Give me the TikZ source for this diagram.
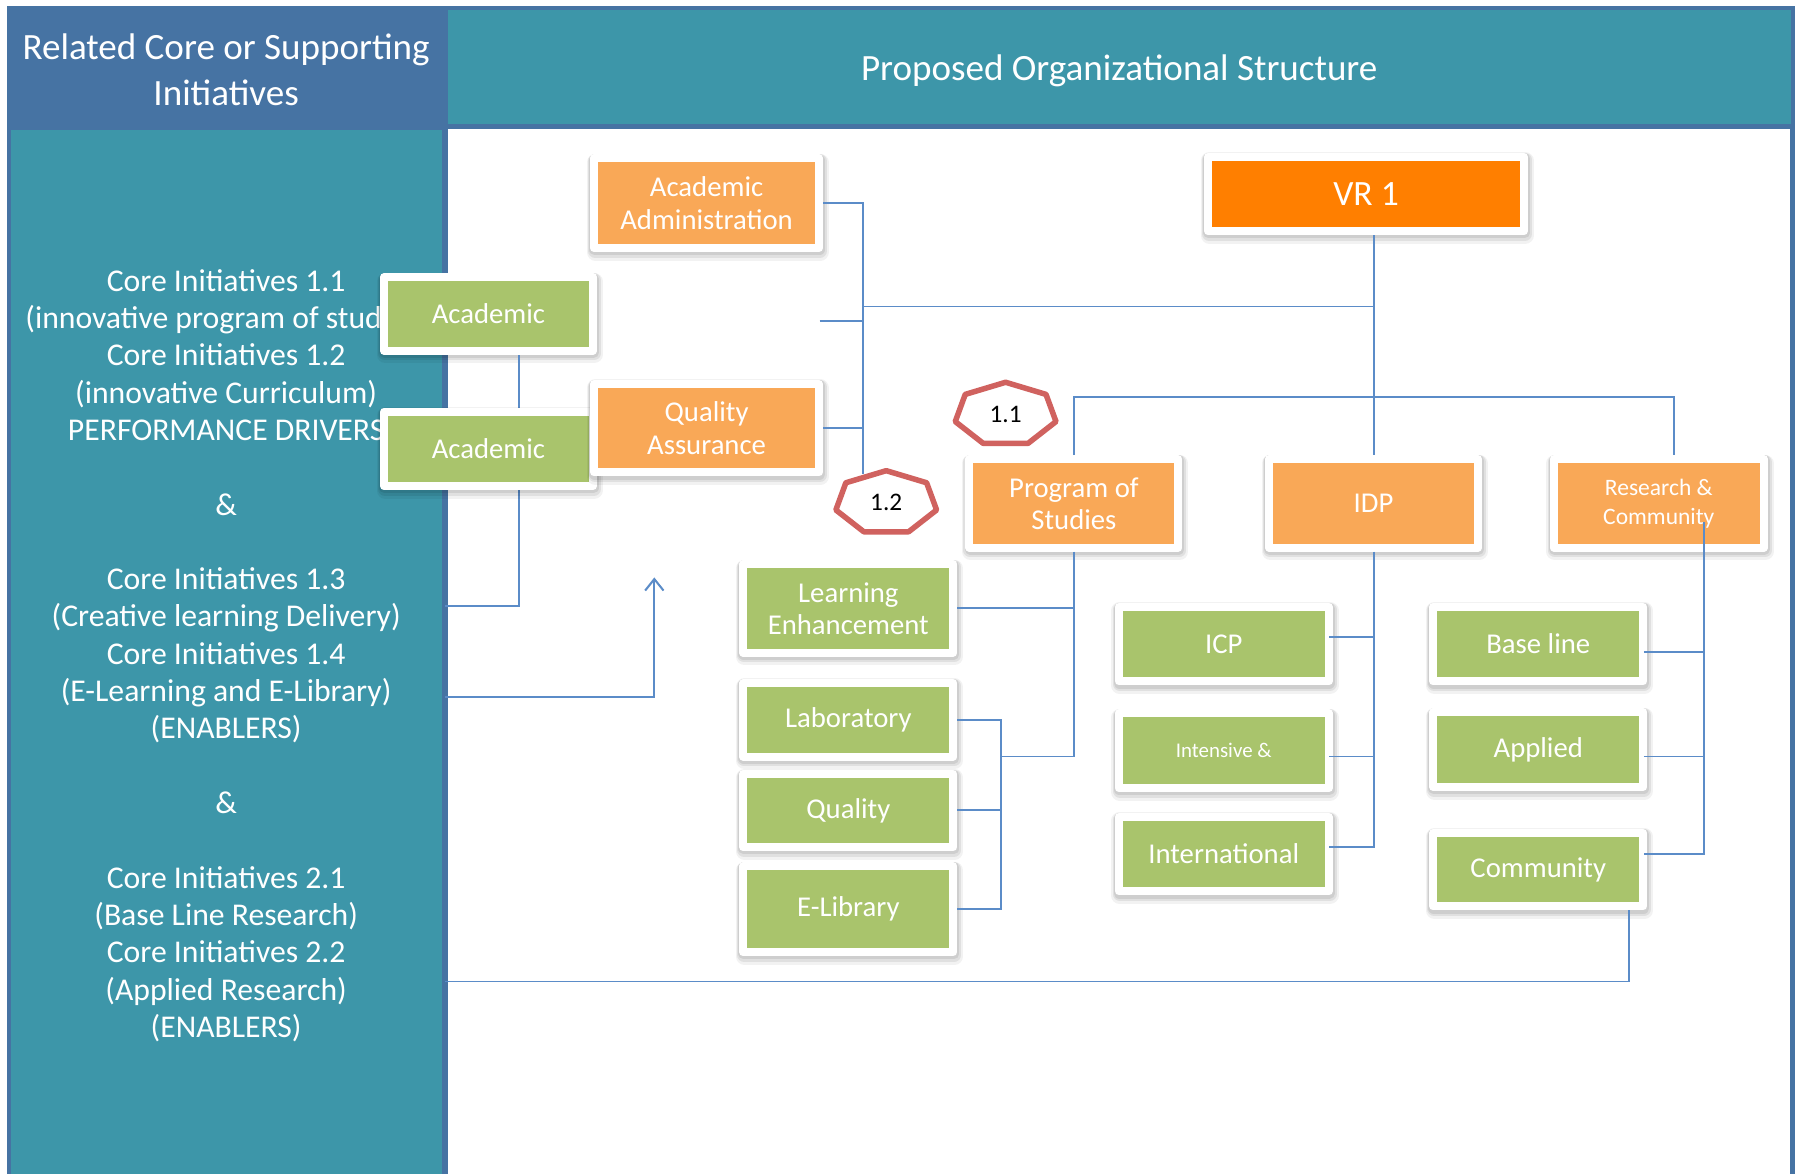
\documentclass[tikz,border=0pt]{standalone}
\usepackage{fontspec}
\setmainfont{Carlito}
\usetikzlibrary{arrows.meta,calc}
\definecolor{dblue}{HTML}{4673A3}
\definecolor{teal1}{HTML}{3D96A9}
\definecolor{lorange}{HTML}{F9A857}
\definecolor{dorange}{HTML}{FF7F00}
\definecolor{lgreen}{HTML}{A9C46C}
\definecolor{connc}{HTML}{5B8CC8}
\definecolor{hepred}{HTML}{D0625F}
\begin{document}
\begin{tikzpicture}[x=1pt,y=-1pt,
  box/.style={draw=white, line width=7pt, line join=round, text=white, align=center, inner sep=0pt,
    minimum width=183pt, minimum height=64pt,
    preaction={draw=black, draw opacity=0.05, line width=15pt, transform canvas={xshift=1pt,yshift=-3.5pt}},
    preaction={draw=black, draw opacity=0.07, line width=12pt, transform canvas={xshift=0.8pt,yshift=-2.5pt}},
    preaction={draw=black, draw opacity=0.08, line width=9.5pt, transform canvas={xshift=0.5pt,yshift=-1.5pt}}},
  gbox/.style={box, fill=lgreen, font=\fontsize{25}{28}\selectfont},
  obox/.style={box, fill=lorange, font=\fontsize{25}{28}\selectfont},
  conn/.style={draw=connc, line width=1.7pt},
  hep/.style={draw=hepred, line width=4.8pt, fill=white, line join=round},
  hdr/.style={text=white, align=center, font=\fontsize{32.3}{40}\selectfont},
  lefttext/.style={text=white, align=center, font=\fontsize{27.6}{32.5}\selectfont},
  heptext/.style={text=black, font=\fontsize{22}{24}\selectfont, inner sep=0pt}]
\useasboundingbox (0,0) rectangle (1568,1023);
% panels
\fill[dblue] (6,5) rectangle (1564,1023);
\fill[teal1] (10,113) rectangle (385,1023);
\fill[teal1] (390,9) rectangle (1560,108);
\fill[white] (390,112) rectangle (1559,1023);
% headers
\node[hdr] (hl) at (197,61) {Related Core or Supporting\\Initiatives};
\node[hdr] (hr) at (975,62) {Proposed Organizational Structure};
% left column text
\node[lefttext] (lt) at (197,571) {Core Initiatives 1.1\\(innovative program of studies)\\Core Initiatives 1.2\\(innovative Curriculum)\\PERFORMANCE DRIVERS\\[32.5pt]\&\\[32.5pt]Core Initiatives 1.3\\(Creative learning Delivery)\\Core Initiatives 1.4\\(E-Learning and E-Library)\\(ENABLERS)\\[32.5pt]\&\\[32.5pt]Core Initiatives 2.1\\(Base Line Research)\\Core Initiatives 2.2\\(Applied Research)\\(ENABLERS)};
% coordinates on left column edge
\coordinate (lc1) at (388,528);
\coordinate (lc2) at (388,607);
\coordinate (lcb) at (388,855);
\coordinate (arr) at (570,503);
% boxes
\node[gbox, minimum width=182pt] (acad1) at (425.5,273.5) {Academic};
\draw[conn] (lc1) -| ($(acad1.south)+(26.5,0)$);
\node[gbox, minimum width=182pt, minimum height=65pt] (acad2) at (425.5,391) {Academic};
\node[obox, minimum width=196pt, minimum height=78pt] (aa) at (615.5,177) {Academic\\Administration};
\node[obox, minimum width=196pt, minimum height=77pt] (qa) at (615.5,373) {Quality\\Assurance};
\node[box, fill=dorange, minimum width=275pt, minimum height=65pt, font=\fontsize{31}{34}\selectfont] (vr) at (1190,169) {VR 1};
\node[obox, minimum width=182pt, minimum height=77pt] (ps) at (935.5,438.5) {Program of\\Studies};
\node[obox, minimum width=182pt, minimum height=77pt] (idp) at (1196.5,438.5) {IDP};
\node[box, fill=lorange, minimum height=77pt, font=\fontsize{20.5}{25}\selectfont] (rc) at (1445,438.5) {Research \&\\Community};
\node[gbox, minimum height=77pt] (le) at (739,530) {Learning\\Enhancement};
\node[gbox] (lab) at (739,627) {Laboratory};
\node[gbox] (qual) at (739,706) {Quality};
\node[gbox, minimum height=75pt] (elib) at (739,792) {E-Library};
\node[gbox, minimum height=65pt] (icp) at (1066,561) {ICP};
\node[box, fill=lgreen, minimum height=65pt, font=\fontsize{18.2}{20}\selectfont] (int) at (1066,654) {Intensive \&};
\node[gbox, minimum height=65pt] (intl) at (1066,744) {International};
\node[gbox, minimum height=65pt] (bl) at (1340,561) {Base line};
\node[gbox, minimum height=65pt] (app) at (1340,653) {Applied};
\node[gbox] (com) at (1340,757.5) {Community};
% junction coordinates
\coordinate (jtop) at (752,267);
\coordinate (jbot) at (752,413);
\coordinate (stub) at (714,280);
\coordinate (bus) at (1100,346);
\coordinate (rctop) at ($(rc.north)+(13,0)$);
\coordinate (psj) at (935.5,659);
\coordinate (labx) at (872,0);
\coordinate (icpc) at (1158,555);
\coordinate (intc) at (1158,659);
\coordinate (intlc) at (1158,738);
\coordinate (rcin) at (1484,455);
\coordinate (blc) at (1432,568);
\coordinate (appc) at (1432,659);
\coordinate (comc) at (1432,744);
\coordinate (comb) at ($(com.south)+(79,0)$);
% connectors
\draw[conn] (aa.east) -| (jbot);
\draw[conn] (qa.east) -- (qa.east -| jbot);
\draw[conn] (stub) -- (stub -| jbot);
\draw[conn] (jtop) -- (jtop -| idp.north);
\draw[conn] (vr.south -| idp.north) -- (idp.north);
\draw[conn] (ps.north) -- (ps.north |- bus) -- (bus -| rctop) -- (rctop);
\draw[conn] (ps.south) -- (psj) -- (psj -| labx);
\draw[conn] (le.east) -- (le.east -| ps.south);
\draw[conn] (lab.east) -- (lab.east -| labx) -- (elib.east -| labx) -- (elib.east);
\draw[conn] (qual.east) -- (qual.east -| labx);
\draw[conn] (idp.south) -- (idp.south |- intlc) -- (intlc);
\draw[conn] (icpc) -- (icpc -| idp.south);
\draw[conn] (intc) -- (intc -| idp.south);
\draw[conn] (rcin) -- (rcin |- comc) -- (comc);
\draw[conn] (blc) -- (blc -| rcin);
\draw[conn] (appc) -- (appc -| rcin);
\draw[conn] (comb) |- (lcb);
\draw[conn, -{Straight Barb[length=10pt,width=16pt,line width=1.8pt]}] (lc2) -| (arr);
% heptagons
\node[heptext] (h11) at (876,361) {1.1};
\draw[hep, shift={(h11.center)}] plot[samples at={270,321.4286,12.8571,64.2857,115.7143,167.1429,218.5714}] ({45*cos(\x)},{28*sin(\x)}) -- cycle;
\node[heptext] at (h11) {1.1};
\node[heptext] (h12) at (772,438) {1.2};
\draw[hep, shift={(h12.center)}] plot[samples at={270,321.4286,12.8571,64.2857,115.7143,167.1429,218.5714}] ({45*cos(\x)},{28*sin(\x)}) -- cycle;
\node[heptext] at (h12) {1.2};
\end{tikzpicture}
\end{document}
